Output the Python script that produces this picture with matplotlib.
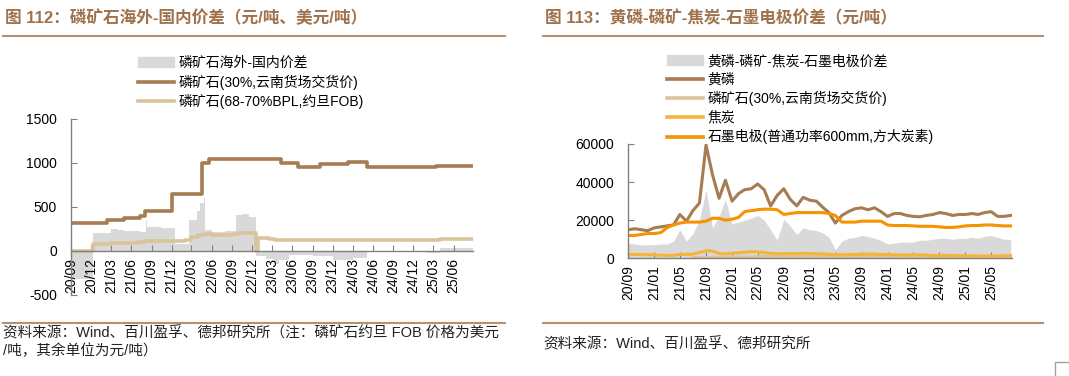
import matplotlib
matplotlib.use('Agg')
import matplotlib.pyplot as plt
import matplotlib.dates as mdates
from matplotlib.patches import Patch
from matplotlib.lines import Line2D
import numpy as np
import pandas as pd

plt.rcParams['font.family'] = ['Liberation Sans', 'Noto Sans CJK SC', 'DejaVu Sans']
plt.rcParams['axes.unicode_minus'] = False

W, H = 1069, 376

BROWN = '#a67c52'
BEIGE = '#d9c59d'
GRAY = '#d9d9d9'
COKE = '#f5b43a'
GRAPHITE = '#f59300'
TITLE = '#a0724c'
RULE = '#b8906f'
SPINE = '#808080'

# ---- 图112 data (change points, step series) ----
cn_dates = ['2020-09-01', '2021-02-10', '2021-05-01', '2021-07-10', '2021-08-01',
            '2021-12-01', '2022-04-20', '2022-05-20', '2023-04-10', '2023-06-25',
            '2023-10-05', '2024-02-10', '2024-05-05', '2025-03-15', '2025-08-28']
cn_price = [320, 350, 380, 400, 460, 650, 1000, 1050, 1000, 955, 990, 1010, 950, 970, 970]

fob_dates = ['2020-09-01', '2020-12-10', '2021-01-15', '2021-03-01', '2021-05-01',
             '2021-07-01', '2021-08-01', '2022-02-01', '2022-03-01', '2022-04-01',
             '2022-05-01', '2022-06-01', '2022-09-01', '2022-10-01', '2022-12-20',
             '2022-12-26', '2023-02-15', '2023-03-15', '2023-12-15', '2024-03-01',
             '2025-03-15', '2025-04-01', '2025-08-28']
fob_price = [0, 80, 85, 90, 95, 100, 115, 120, 155, 180, 190, 185, 195, 210, 0,
             150, 140, 130, 120, 130, 130, 140, 140]

gap_dates = ['2020-09-01', '2020-12-10', '2021-03-01', '2021-04-01', '2021-05-01',
             '2021-07-10', '2021-08-05', '2021-08-12', '2021-10-15', '2021-12-15',
             '2022-02-20', '2022-03-25', '2022-04-10', '2022-04-25', '2022-05-01',
             '2022-06-01', '2022-08-01', '2022-09-20', '2022-10-15', '2022-11-15',
             '2022-12-20', '2023-02-01', '2023-03-10', '2023-04-01', '2023-05-15',
             '2023-09-01', '2023-12-01', '2024-03-01', '2024-05-05', '2025-02-01',
             '2025-04-01', '2025-08-28']
gap_price = [-320, 210, 255, 240, 230, 220, 350, 275, 265, 85, 350, 450, 550, 600, 240,
             220, 230, 410, 420, 390, -60, -90, -150, -100, -40, -60, -100, -80, -10,
             -20, 30, 30]

# ---- 图113 data (monthly, 2020/09 - 2025/08) ----
months = pd.date_range('2020-09-01', periods=60, freq='MS')
spread = [8000, 7500, 7000, 7000, 7200, 7500, 7500, 9000, 15000, 9000,
          13000, 20000, 36000, 16000, 22000, 31000, 18000, 19000, 20000, 21000,
          22500, 20000, 15000, 9500, 20500, 17000, 12500, 16000, 15000, 14500,
          13500, 11000, 4500, 9000, 10500, 11000, 12000, 11500, 10500, 9500,
          7500, 8000, 8500, 8500, 8500, 9500, 9500, 10000, 10500, 10500,
          10000, 10500, 10500, 11000, 10500, 11500, 12000, 11000, 10000, 10000]
yellow_p = [15000, 15500, 15000, 14500, 16000, 16500, 17000, 17500, 23000, 19500,
            25000, 29000, 59500, 44000, 31500, 41000, 30000, 34000, 36000, 36500,
            39000, 36000, 27500, 33000, 36500, 31000, 27500, 32000, 30500, 30000,
            27000, 24000, 18500, 22500, 24500, 26000, 26500, 25500, 26500, 24500,
            22000, 23500, 23500, 22500, 22000, 21800, 22500, 23000, 24000, 23500,
            22500, 23000, 23000, 23500, 23000, 24000, 24500, 22000, 22000, 22500]
rock = [np.nan] * 10 + [400, 460, 460, 460, 460, 650, 650, 650, 650, 650,
                        1000, 1050, 1050, 1050, 1050, 1050, 1050, 1050, 1050, 1050,
                        1050, 1000, 1000, 1000, 955, 955, 955, 990, 990, 990,
                        990, 1010, 1010, 1010, 950, 950, 950, 950, 950, 950,
                        950, 950, 950, 950, 970, 970, 970, 970, 970, 970]
coke = [2000, 2000, 1900, 1900, 1800, 1600, 1500, 1600, 2000, 2100,
        2200, 3000, 4000, 3800, 2500, 2300, 2700, 2900, 3200, 3500,
        3400, 3000, 2600, 2400, 2400, 2500, 2400, 2600, 2500, 2400,
        2300, 2100, 1800, 1800, 2000, 2100, 2100, 2200, 2200, 2000,
        2000, 1900, 1800, 1700, 1800, 1800, 1700, 1500, 1400, 1500,
        1400, 1400, 1300, 1300, 1200, 1200, 1200, 1200, 1300, 1400]
graphite = [12000, 12000, 12500, 13000, 13000, 13500, 16000, 17500, 18500, 19000,
            19000, 19000, 19500, 21000, 21000, 20000, 20500, 21500, 24500, 25000,
            25500, 25800, 25800, 25500, 23000, 23500, 24000, 24000, 24000, 24000,
            24000, 23500, 22500, 19000, 19000, 19000, 19500, 19500, 19500, 19500,
            17500, 17200, 17200, 17200, 17000, 16800, 16800, 16800, 16500, 16200,
            16200, 16500, 17000, 17200, 17200, 17500, 17500, 17200, 17000, 17000]

fig = plt.figure(figsize=(W / 100, H / 100), dpi=100)


def style_axes(ax):
    for s in ['top', 'right']:
        ax.spines[s].set_visible(False)
    for s in ['left', 'bottom']:
        ax.spines[s].set_color(SPINE)
        ax.spines[s].set_linewidth(1)
    ax.tick_params(axis='both', direction='in', length=4, color=SPINE, labelsize=10)
    ax.tick_params(axis='y', pad=10)
    ax.tick_params(axis='x', pad=5, labelrotation=90)
    ax.patch.set_alpha(0)


# ---- left chart ----
ax1 = fig.add_axes([71 / W, 1 - 295 / H, (473 - 71) / W, (295 - 119) / H])
ax1.fill_between(pd.to_datetime(gap_dates), gap_price, 0, step='post', color=GRAY, lw=0)
ax1.step(pd.to_datetime(cn_dates), cn_price, where='post', color=BROWN, lw=2.6)
ax1.step(pd.to_datetime(fob_dates), fob_price, where='post', color=BEIGE, lw=2.6)
ax1.set_ylim(-500, 1500)
ax1.set_yticks([-500, 0, 500, 1000, 1500])
ax1.set_xlim(pd.Timestamp('2020-09-01'), pd.Timestamp('2025-08-28'))
ax1.xaxis.set_major_locator(mdates.MonthLocator(bymonth=[3, 6, 9, 12], bymonthday=1))
ax1.xaxis.set_major_formatter(mdates.DateFormatter('%y/%m'))
style_axes(ax1)
ax1.spines['bottom'].set_position(('data', 0))

h1 = [Patch(color=GRAY), Line2D([], [], color=BROWN, lw=2.6), Line2D([], [], color=BEIGE, lw=2.6)]
l1 = ['磷矿石海外-国内价差', '磷矿石(30%,云南货场交货价)', '磷矿石(68-70%BPL,约旦FOB)']
fig.legend(h1, l1, loc='upper left', bbox_to_anchor=(138 / W, 1 - 56 / H), frameon=False,
           fontsize=10, handlelength=2.6, handletextpad=0.3, labelspacing=0.33,
           borderpad=0, borderaxespad=0)

# ---- right chart ----
ax2 = fig.add_axes([628.3 / W, 1 - 258.3 / H, (1011.7 - 628.3) / W, (258.3 - 144) / H])
ax2.fill_between(months, spread, 0, color=GRAY, lw=0)
ax2.plot(months, yellow_p, color=BROWN, lw=2.2)
ax2.plot(months, rock, color=BEIGE, lw=2.2)
ax2.plot(months, coke, color=COKE, lw=2.2)
ax2.plot(months, graphite, color=GRAPHITE, lw=2.2)
ax2.set_ylim(0, 60000)
ax2.set_yticks([0, 20000, 40000, 60000])
ax2.set_xlim(pd.Timestamp('2020-09-01'), pd.Timestamp('2025-08-06'))
ax2.xaxis.set_major_locator(mdates.MonthLocator(bymonth=[1, 5, 9], bymonthday=1))
ax2.xaxis.set_major_formatter(mdates.DateFormatter('%y/%m'))
style_axes(ax2)

h2 = [Patch(color=GRAY), Line2D([], [], color=BROWN, lw=2.6), Line2D([], [], color=BEIGE, lw=2.6),
      Line2D([], [], color=COKE, lw=2.6), Line2D([], [], color=GRAPHITE, lw=2.6)]
l2 = ['黄磷-磷矿-焦炭-石墨电极价差', '黄磷', '磷矿石(30%,云南货场交货价)', '焦炭',
      '石墨电极(普通功率600mm,方大炭素)']
fig.legend(h2, l2, loc='upper left', bbox_to_anchor=(667 / W, 1 - 54 / H), frameon=False,
           fontsize=10, handlelength=2.6, handletextpad=0.3, labelspacing=0.33,
           borderpad=0, borderaxespad=0)

# ---- titles, rules, notes ----
fig.text(5 / W, 1 - 18 / H, '图 112：磷矿石海外-国内价差（元/吨、美元/吨）', fontsize=12,
         fontweight='bold', color=TITLE, va='center')
fig.text(545 / W, 1 - 18 / H, '图 113：黄磷-磷矿-焦炭-石墨电极价差（元/吨）', fontsize=12,
         fontweight='bold', color=TITLE, va='center')
for x0, x1 in [(3, 505), (543, 1043)]:
    for y in [35.7, 322.5]:
        fig.add_artist(Line2D([x0 / W, x1 / W], [1 - y / H] * 2, color=RULE, lw=1.5))
fig.text(3 / W, 1 - 333 / H, '资料来源：Wind、百川盈孚、德邦研究所（注：磷矿石约旦 FOB 价格为美元',
         fontsize=10.5, va='center', color='#222222')
fig.text(3 / W, 1 - 351 / H, '/吨，其余单位为元/吨）', fontsize=10.5, va='center', color='#222222')
fig.text(543 / W, 1 - 344.5 / H, '资料来源：Wind、百川盈孚、德邦研究所', fontsize=10.5,
         va='center', color='#222222')
fig.add_artist(Line2D([1055 / W, 1055 / W, 1069 / W], [0, 1 - 362 / H, 1 - 362 / H],
                      color='#a0a0a0', lw=1))

fig.savefig('out.png', dpi=100)
